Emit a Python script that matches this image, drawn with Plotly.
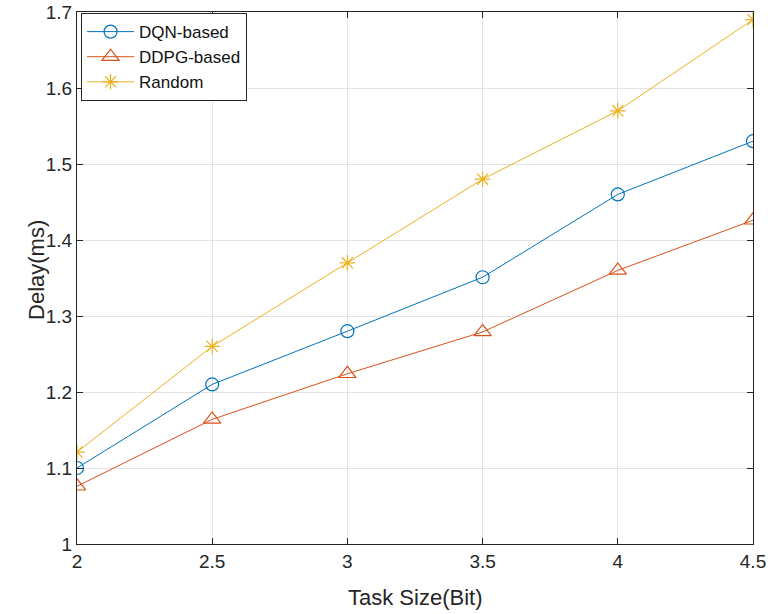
import plotly.graph_objects as go

task_size = [2, 2.5, 3, 3.5, 4, 4.5]
dqn = [1.100, 1.210, 1.280, 1.351, 1.460, 1.530]
ddpg = [1.076, 1.164, 1.224, 1.279, 1.360, 1.426]
rand = [1.121, 1.260, 1.370, 1.480, 1.570, 1.690]

x_ticks = [2, 2.5, 3, 3.5, 4, 4.5]
y_ticks = [1, 1.1, 1.2, 1.3, 1.4, 1.5, 1.6, 1.7]

fig = go.Figure()
fig.add_trace(go.Scatter(x=task_size, y=dqn, name="DQN-based", mode="lines+markers",
                         line=dict(color="#0072BD", width=1),
                         marker=dict(symbol="circle-open", size=13, color="#0072BD", line=dict(width=1.2))))
fig.add_trace(go.Scatter(x=task_size, y=ddpg, name="DDPG-based", mode="lines+markers",
                         line=dict(color="#D95319", width=1),
                         marker=dict(symbol="triangle-up-open", size=15, color="#D95319", line=dict(width=1.2))))
fig.add_trace(go.Scatter(x=task_size, y=rand, name="Random", mode="lines+markers",
                         line=dict(color="#EDB120", width=1),
                         marker=dict(symbol="asterisk-open", size=13, color="#EDB120", line=dict(width=1.2, color="#EDB120"))))

axis_common = dict(showline=True, linecolor="#262626", linewidth=1, mirror="ticks",
                   ticks="inside", ticklen=6, tickcolor="#262626",
                   showgrid=True, gridcolor="#e3e3e3", gridwidth=1, zeroline=False,
                   tickfont=dict(size=19, color="#262626"), automargin=False)

fig.update_layout(
    width=768, height=614,
    margin=dict(l=77, r=15, t=12, b=70),
    paper_bgcolor="white", plot_bgcolor="white",
    font=dict(family="Liberation Sans, Arial, sans-serif", color="#262626"),
    xaxis=dict(range=[2, 4.5], tickvals=x_ticks, ticktext=[str(v) for v in x_ticks], **axis_common),
    yaxis=dict(range=[1, 1.7], tickvals=y_ticks, ticktext=[f"{v:g}" for v in y_ticks], **axis_common),
    legend=dict(x=0.006, y=0.998, xanchor="left", yanchor="top", bgcolor="white",
                bordercolor="#262626", borderwidth=1, font=dict(size=17, color="#111"),
                tracegroupgap=0, itemwidth=47, entrywidth=120, entrywidthmode="pixels"),
    showlegend=True,
    annotations=[
        dict(text="Task Size(Bit)", xref="paper", yref="paper", x=0.5, y=-0.1015,
             xanchor="center", yanchor="middle", showarrow=False, font=dict(size=22, color="#262626")),
        dict(text="Delay(ms)", xref="paper", yref="paper", x=-0.0607, y=0.515,
             xanchor="center", yanchor="middle", textangle=-90, showarrow=False,
             font=dict(size=22, color="#262626")),
    ],
)

fig.write_html("out.html", config={"displayModeBar": False},
               post_script="document.body.style.margin='0';")
